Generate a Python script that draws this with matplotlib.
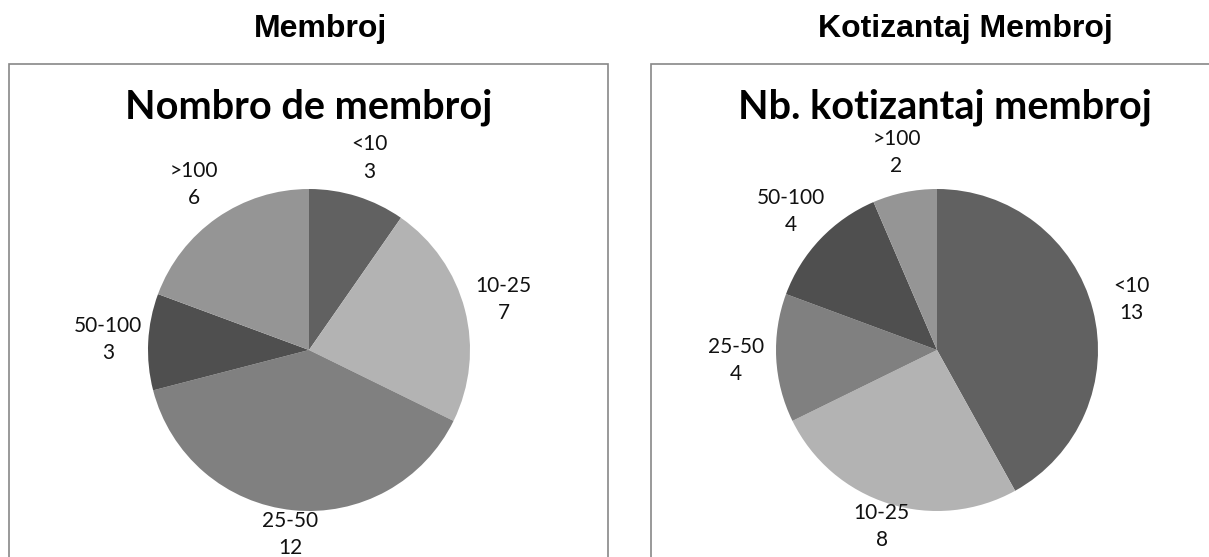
import matplotlib.pyplot as plt
from matplotlib.patches import Rectangle

W, H = 1209, 557
font = 'Lato'

# data
labels_left = ['<10', '10-25', '25-50', '50-100', '>100']
values_left = [3, 7, 12, 3, 6]
labels_right = ['<10', '10-25', '25-50', '50-100', '>100']
values_right = [13, 8, 4, 4, 2]
colors_left = ['#616161', '#b3b3b3', '#808080', '#4f4f4f', '#959595']
colors_right = ['#616161', '#b3b3b3', '#808080', '#4f4f4f', '#959595']

labeld = 1.25
labeld_bottom = 1.15

fig = plt.figure(figsize=(W / 100, H / 100), dpi=100)
fig.patch.set_facecolor('white')


def px_box(x0, y0, x1, y1):
    # pixel box (top-left origin) -> figure fraction
    return [x0 / W, 1 - y1 / H, (x1 - x0) / W, (y1 - y0) / H]


def draw_pie(cx, cy, r, values, labels, colors):
    k = 1.5
    side = 2 * r * k
    ax = fig.add_axes(px_box(cx - side / 2, cy - side / 2, cx + side / 2, cy + side / 2))
    wedges, texts = ax.pie(values, labels=[f'{l}\n{v}' for l, v in zip(labels, values)],
                           colors=colors, startangle=90, counterclock=False,
                           labeldistance=labeld,
                           wedgeprops=dict(linewidth=0),
                           textprops=dict(fontsize=15, family=font, color='#111111'))
    for t in texts:
        t.set_ha('center')
        t.set_va('center')
        t.set_linespacing(1.45)
        t.set_clip_on(False)
        x, y = t.get_position()
        # labels under the pie sit a bit closer (as excel does)
        if y < -1.0:
            s = labeld_bottom / labeld
            t.set_position((x * s, y * s))
    ax.set_xlim(-k, k)
    ax.set_ylim(-k, k)
    ax.set_aspect('equal')
    ax.axis('off')
    return ax


# frames
for x0, x1 in [(9, 608), (651, 1250)]:
    fig.add_artist(Rectangle((x0 / W, 1 - 620 / H), (x1 - x0) / W, (620 - 64) / H,
                             transform=fig.transFigure, facecolor='none',
                             edgecolor='#878787', linewidth=1.2))

draw_pie(309, 350, 161, values_left, labels_left, colors_left)
draw_pie(937, 350, 161, values_right, labels_right, colors_right)

# titles
fig.text(321 / W, 1 - 29 / H, 'Membroj', ha='center', va='center',
         family='Liberation Sans', weight='bold', fontsize=23)
fig.text(965 / W, 1 - 29 / H, 'Kotizantaj Membroj', ha='center', va='center',
         family='Liberation Sans', weight='bold', fontsize=23)
fig.text(309 / W, 1 - 107 / H, 'Nombro de membroj', ha='center', va='center',
         family=font, weight='bold', fontsize=28.5)
fig.text(945 / W, 1 - 107 / H, 'Nb. kotizantaj membroj', ha='center', va='center',
         family=font, weight='bold', fontsize=28.5)

fig.savefig('out.png', dpi=100)
